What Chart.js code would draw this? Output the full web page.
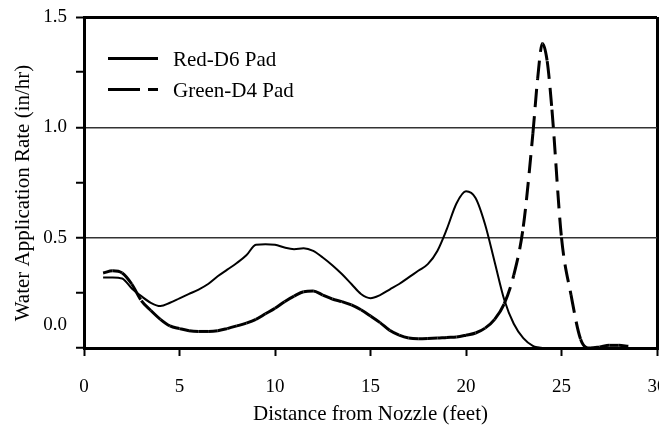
<!DOCTYPE html>
<html>
<head>
<meta charset="utf-8">
<script src="https://cdn.jsdelivr.net/npm/chart.js@4.4.0/dist/chart.umd.min.js"></script>
<style>
  body { margin: 0; background: #fff; }
  #wrap { width: 659px; height: 427px; position: relative; }
</style>
</head>
<body>
<div id="wrap"><canvas id="chart"></canvas></div>
<script>
// Distance from nozzle (feet)
var distances = [1, 1.5, 2, 2.5, 3, 3.5, 4, 4.5, 5, 5.5, 6, 6.5, 7, 7.5, 8, 8.5, 9, 9.5, 10, 10.5,
                 11, 11.5, 12, 12.5, 13, 13.5, 14, 14.5, 15, 15.5, 16, 16.5, 17, 17.5, 18, 18.5, 19, 19.5, 20, 20.5,
                 21, 21.5, 22, 22.5, 23, 23.5, 23.75, 24, 24.25, 24.5, 25, 25.5, 26, 26.5, 27, 27.5, 28, 28.5];

// Water application rate (in/hr)
var redD6 = [0.32, 0.32, 0.315, 0.27, 0.235, 0.205, 0.19, 0.205, 0.225, 0.245, 0.265, 0.29, 0.325, 0.355, 0.385, 0.42, 0.468, 0.47, 0.468, 0.455,
             0.448, 0.452, 0.44, 0.41, 0.375, 0.335, 0.29, 0.245, 0.226, 0.24, 0.265, 0.29, 0.32, 0.35, 0.38, 0.44, 0.54, 0.655, 0.71, 0.68,
             0.56, 0.39, 0.22, 0.11, 0.045, 0.01, 0.003, 0, null, null, null, null, null, null, null, null, null, null];

var greenD4 = [0.34, 0.35, 0.34, 0.29, 0.215, 0.17, 0.13, 0.1, 0.088, 0.078, 0.075, 0.075, 0.078, 0.088, 0.1, 0.113, 0.13, 0.155, 0.18, 0.21,
               0.235, 0.255, 0.258, 0.24, 0.222, 0.21, 0.195, 0.173, 0.145, 0.115, 0.08, 0.058, 0.045, 0.042, 0.043, 0.045, 0.048, 0.05, 0.058, 0.068,
               0.09, 0.13, 0.2, 0.33, 0.55, 0.97, 1.22, 1.38, 1.3, 1.08, 0.5, 0.24, 0.04, 0, 0.005, 0.012, 0.012, 0.008];

var seriesNames = ['Red-D6 Pad', 'Green-D4 Pad'];
var yLabelValues = [0, 0.5, 1.0, 1.5];
var yGridValues = [0.5, 1.0];

var serif = '"Liberation Serif", "Times New Roman", serif';
Chart.defaults.font.family = serif;
Chart.defaults.color = '#000';

function toPoints(values) {
    return distances.map(function(d, i) { return { x: d, y: values[i] }; });
}

// legend sits inside the plot, top-left, like the original figure
var insideLegend = {
    id: 'insideLegend',
    afterDraw: function(chart) {
        var ctx = chart.ctx;
        var area = chart.chartArea;
        chart.data.datasets.forEach(function(ds, i) {
            var y = area.top + 41.5 + i * 31;
            ctx.save();
            ctx.strokeStyle = '#000';
            ctx.lineWidth = 3;
            ctx.setLineDash(ds.legendDash || []);
            ctx.beginPath();
            ctx.moveTo(area.left + 24, y);
            ctx.lineTo(area.left + 74, y);
            ctx.stroke();
            ctx.setLineDash([]);
            ctx.fillStyle = '#000';
            ctx.font = '21px ' + serif;
            ctx.textBaseline = 'middle';
            ctx.fillText(ds.label, area.left + 89, y + 1.5);
            ctx.restore();
        });
    }
};

// no extra room for overflowing tick labels: the "30" is clipped in the original
function noLabelPadding(scale) {
    scale.paddingLeft = 0;
    scale.paddingRight = 0;
    scale.paddingTop = 0;
    scale.paddingBottom = 0;
}

var ctx = document.getElementById('chart').getContext('2d');
var chart = new Chart(ctx, {
    type: 'line',
    data: {
        datasets: [{
            label: seriesNames[0],
            data: toPoints(redD6),
            borderColor: '#000',
            borderWidth: 2,
            pointRadius: 0,
            cubicInterpolationMode: 'monotone',
            fill: false
        }, {
            label: seriesNames[1],
            data: toPoints(greenD4),
            borderColor: '#000',
            borderWidth: 3,
            borderDash: [18, 9],
            legendDash: [32, 8],
            pointRadius: 0,
            cubicInterpolationMode: 'monotone',
            fill: false,
            // restart the dash pattern at every data point (old spreadsheet look)
            segment: {
                borderDashOffset: function(c) { return (c.p0DataIndex % 2) * 0.01; }
            }
        }]
    },
    options: {
        responsive: true,
        maintainAspectRatio: false,
        animation: false,
        layout: {
            autoPadding: false,
            padding: { left: 0, right: 2, top: 17, bottom: 0 }
        },
        plugins: {
            legend: { display: false },
            tooltip: { enabled: false }
        },
        scales: {
            x: {
                type: 'linear',
                min: 0,
                max: 30,
                afterFit: function(scale) { scale.height = 79; noLabelPadding(scale); },
                ticks: {
                    stepSize: 5,
                    padding: 20,
                    font: { size: 19 },
                    color: '#000'
                },
                border: { display: true, color: '#000', width: 3 },
                grid: {
                    drawOnChartArea: true,
                    color: function(c) { return c.tick && c.tick.value === 30 ? '#000' : 'rgba(0,0,0,0)'; },
                    lineWidth: 3,
                    tickColor: '#000',
                    tickWidth: 2,
                    tickLength: 8
                },
                title: {
                    display: true,
                    text: 'Distance from Nozzle (feet)',
                    font: { size: 21 },
                    color: '#000',
                    padding: { top: 0, bottom: 0 }
                }
            },
            y: {
                min: 0,
                max: 1.5,
                afterFit: function(scale) { scale.width = 84; noLabelPadding(scale); },
                ticks: {
                    stepSize: 0.25,
                    autoSkip: false,
                    padding: 9,
                    font: { size: 19 },
                    color: '#000',
                    callback: function(v) {
                        if (yLabelValues.indexOf(v) < 0) return '';
                        // the original prints "0.0" a little above the axis line
                        if (v === 0) return ['0.0', '', ''];
                        return v.toFixed(1);
                    }
                },
                border: { display: true, color: '#000', width: 3 },
                grid: {
                    drawOnChartArea: true,
                    color: function(c) {
                        if (!c.tick) return 'rgba(0,0,0,0)';
                        if (c.tick.value === 1.5) return '#000';
                        if (yGridValues.indexOf(c.tick.value) >= 0) return '#333';
                        return 'rgba(0,0,0,0)';
                    },
                    lineWidth: function(c) { return c.tick && c.tick.value === 1.5 ? 3 : 1.5; },
                    tickColor: '#000',
                    tickWidth: 2,
                    tickLength: 8
                },
                title: {
                    display: true,
                    // trailing spaces nudge the title slightly down, as in the original
                    text: 'Water Application Rate (in/hr)    ',
                    font: { size: 21 },
                    color: '#000',
                    padding: { top: 11, bottom: 0 }
                }
            }
        }
    },
    plugins: [insideLegend]
});
</script>
</body>
</html>
